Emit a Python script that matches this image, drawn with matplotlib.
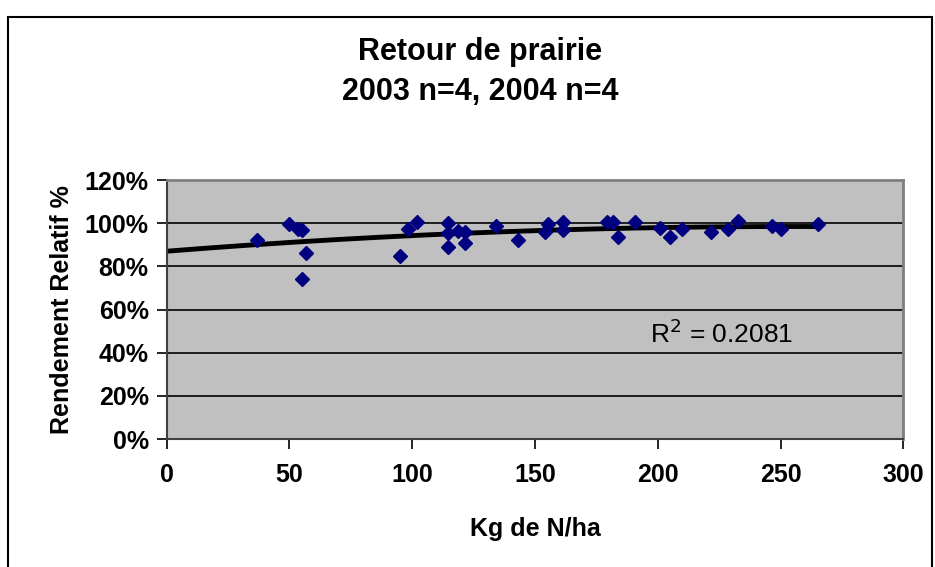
import matplotlib
matplotlib.use("Agg")
import matplotlib.pyplot as plt
import matplotlib.patches as patches
import numpy as np

# ============  Données  ============
azote = [36.7, 49.8, 53.5, 55.0, 56.6, 55.0, 95.0, 98.4, 101.8, 114.7,
         114.7, 114.7, 118.8, 121.5, 121.5, 134.1, 143.2, 154.1, 155.4, 161.5,
         161.5, 179.2, 181.9, 184.0, 190.8, 200.9, 205.0, 210.0, 221.6, 228.4,
         232.7, 246.7, 250.1, 265.2]
rendement = [92.0, 99.5, 97.5, 97.0, 86.0, 74.0, 85.0, 97.5, 100.5, 100.3,
             95.3, 89.0, 96.5, 96.0, 91.0, 98.8, 92.0, 96.0, 99.5, 100.5,
             97.0, 100.5, 100.5, 93.5, 100.5, 98.0, 93.5, 97.5, 96.0, 97.5,
             100.8, 98.5, 97.5, 99.5]
y_ticks = [0, 20, 40, 60, 80, 100, 120]
y_labels = ["0%", "20%", "40%", "60%", "80%", "100%", "120%"]
x_ticks = [0, 50, 100, 150, 200, 250, 300]
r2_text = "R$^2$ = 0.2081"

plt.rcParams['font.family'] = ['Liberation Sans', 'DejaVu Sans']

fig = plt.figure(figsize=(9.35, 5.67), dpi=100)
ax = fig.add_axes([0.1783, 0.2257, 0.7878, 0.4568])

# cadre extérieur
fig.patches.append(patches.Rectangle((8/935, -0.05), 924/935, 1 - 17/567 + 0.05,
                                     transform=fig.transFigure, fill=False,
                                     edgecolor="black", linewidth=1.5))

ax.set_facecolor("#C0C0C0")
for yv in y_ticks[1:-1]:
    ax.axhline(yv, color="black", linewidth=1.2, zorder=1)

# courbe de tendance (polynôme d'ordre 2)
coef = np.polyfit(azote, rendement, 2)
xt = np.linspace(0, max(azote), 200)
ax.plot(xt, np.polyval(coef, xt), color="black", linewidth=3.5, zorder=2)

ax.plot(azote, rendement, linestyle="none", marker="D", markersize=7.5,
        color="#000080", zorder=3)

ax.set_xlim(0, 300)
ax.set_ylim(0, 120)
ax.set_xticks(x_ticks)
ax.set_yticks(y_ticks)
ax.set_yticklabels(y_labels)
ax.tick_params(axis="both", direction="out", length=7, width=1.2,
               labelsize=18, pad=6)
for lab in ax.get_xticklabels() + ax.get_yticklabels():
    lab.set_fontweight("bold")
ax.tick_params(axis="x", pad=10)

for s in ["top", "right"]:
    ax.spines[s].set_color("#808080")
    ax.spines[s].set_linewidth(2)
for s in ["left", "bottom"]:
    ax.spines[s].set_color("#404040")
    ax.spines[s].set_linewidth(1.5)

ax.set_xlabel("Kg de N/ha", fontsize=18, fontweight="bold", labelpad=22)
ax.set_ylabel("Rendement Relatif %", fontsize=18, fontweight="bold", labelpad=8)

ax.text(197, 49, r2_text, fontsize=19, va="center", ha="left")

fig.text(480/935, 1 - 72/567, "Retour de prairie\n2003 n=4, 2004 n=4",
         ha="center", va="center", fontsize=22, fontweight="bold",
         linespacing=1.4)

fig.savefig("out.png", dpi=100)
